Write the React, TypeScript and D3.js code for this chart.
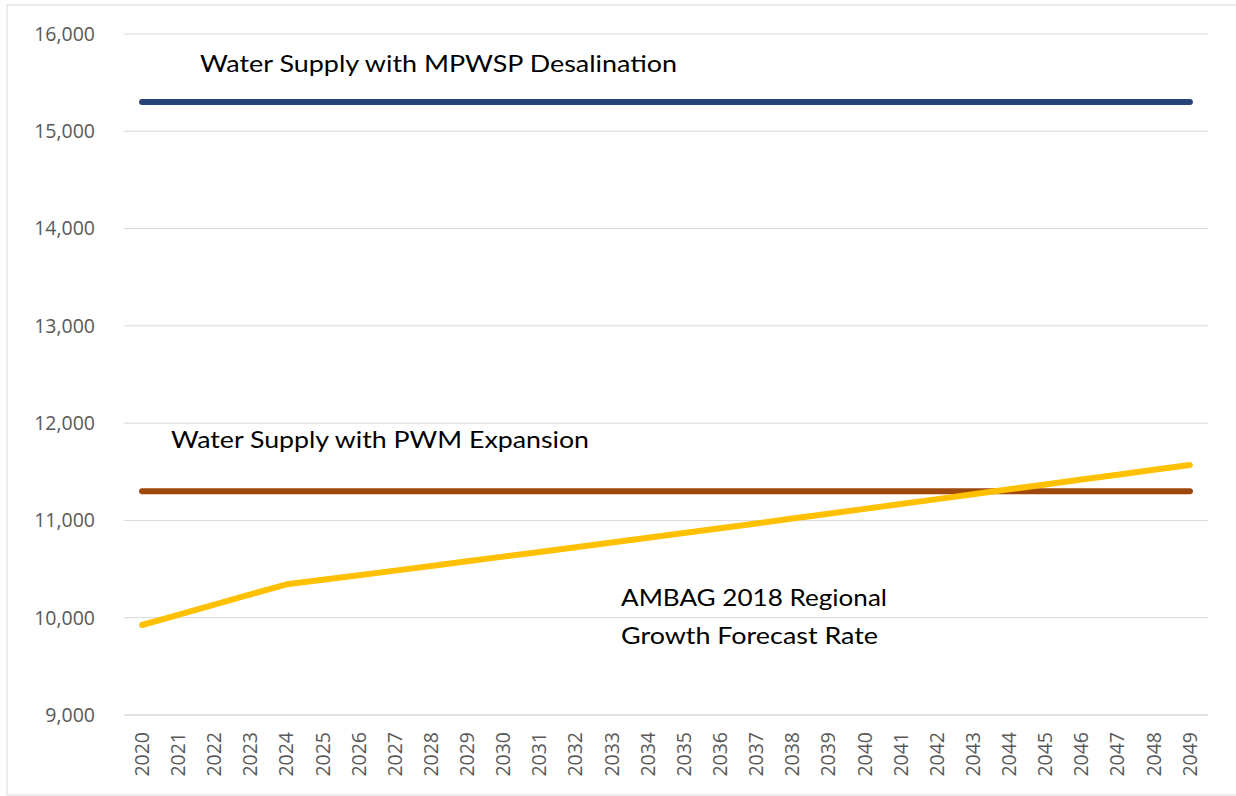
import { useMemo } from 'react'
import * as d3 from 'd3'

const years = d3.range(2020, 2050).map(String)
const yTicks = [9000, 10000, 11000, 12000, 13000, 14000, 15000, 16000]

const desalSupply = years.map(() => 15300)
const pwmSupply = years.map(() => 11300)
const ambagDemand = [
  9925, 10030, 10135, 10240, 10343, 10390, 10437, 10484, 10532, 10580,
  10628, 10676, 10724, 10773, 10822, 10871, 10920, 10969, 11019, 11069,
  11119, 11169, 11219, 11270, 11320, 11370, 11420, 11470, 11520, 11570,
]

const seriesColors = ['#264478', '#9e480e', '#ffc000']

const W = 1236
const H = 796
const margin = { top: 34, right: 28, bottom: 81, left: 124 }

const App = () => {
  const xScale = useMemo(
    () =>
      d3
        .scaleBand()
        .domain(years)
        .range([margin.left, W - margin.right]),
    []
  )
  const yScale = d3
    .scaleLinear()
    .domain([9000, 16000])
    .range([H - margin.bottom, margin.top])

  const line = d3
    .line<number>()
    .x((_, i) => (xScale(years[i]) as number) + xScale.bandwidth() / 2)
    .y(d => yScale(d))

  const series = [desalSupply, pwmSupply, ambagDemand]

  return (
    <svg
      width={W}
      height={H}
      style={{ position: 'absolute', left: 0, top: 0, background: '#fff' }}
    >
      <rect x={7} y={5} width={1240} height={790} fill="#fff" stroke="#d9d9d9" />
      {/* gridlines */}
      {yTicks.map(t => (
        <line
          key={t}
          x1={margin.left}
          x2={W - margin.right}
          y1={yScale(t)}
          y2={yScale(t)}
          stroke="#d9d9d9"
          strokeWidth={t === 9000 ? 1.5 : 1}
        />
      ))}
      {/* y labels */}
      {yTicks.map(t => (
        <text
          key={t}
          x={95}
          y={yScale(t)}
          dy="0.35em"
          textAnchor="end"
          fontFamily="'Open Sans', sans-serif"
          fontSize={19.5}
          fill="#595959"
        >
          {d3.format(',')(t)}
        </text>
      ))}
      {/* x labels */}
      {years.map(y => {
        const cx = (xScale(y) as number) + xScale.bandwidth() / 2
        return (
          <text
            key={y}
            transform={`translate(${cx}, 732) rotate(-90)`}
            dy="0.35em"
            textAnchor="end"
            fontFamily="'Open Sans', sans-serif"
            fontSize={19.5}
            fill="#595959"
          >
            {y}
          </text>
        )
      })}
      {/* series */}
      {series.map((s, i) => (
        <path
          key={i}
          d={line(s) as string}
          fill="none"
          stroke={seriesColors[i]}
          strokeWidth={6}
          strokeLinecap="round"
          strokeLinejoin="round"
        />
      ))}
      {/* annotations */}
      <g fontFamily="Lato, 'Open Sans', sans-serif" fontSize={24} fill="#000">
        <text x={200} y={72} textLength={477} lengthAdjust="spacingAndGlyphs">
          Water Supply with MPWSP Desalination
        </text>
        <text x={171} y={448} textLength={418} lengthAdjust="spacingAndGlyphs">
          Water Supply with PWM Expansion
        </text>
        <text x={621} y={606} textLength={266} lengthAdjust="spacingAndGlyphs">
          AMBAG 2018 Regional
        </text>
        <text x={621} y={644} textLength={257} lengthAdjust="spacingAndGlyphs">
          Growth Forecast Rate
        </text>
      </g>
    </svg>
  )
}

export default App
